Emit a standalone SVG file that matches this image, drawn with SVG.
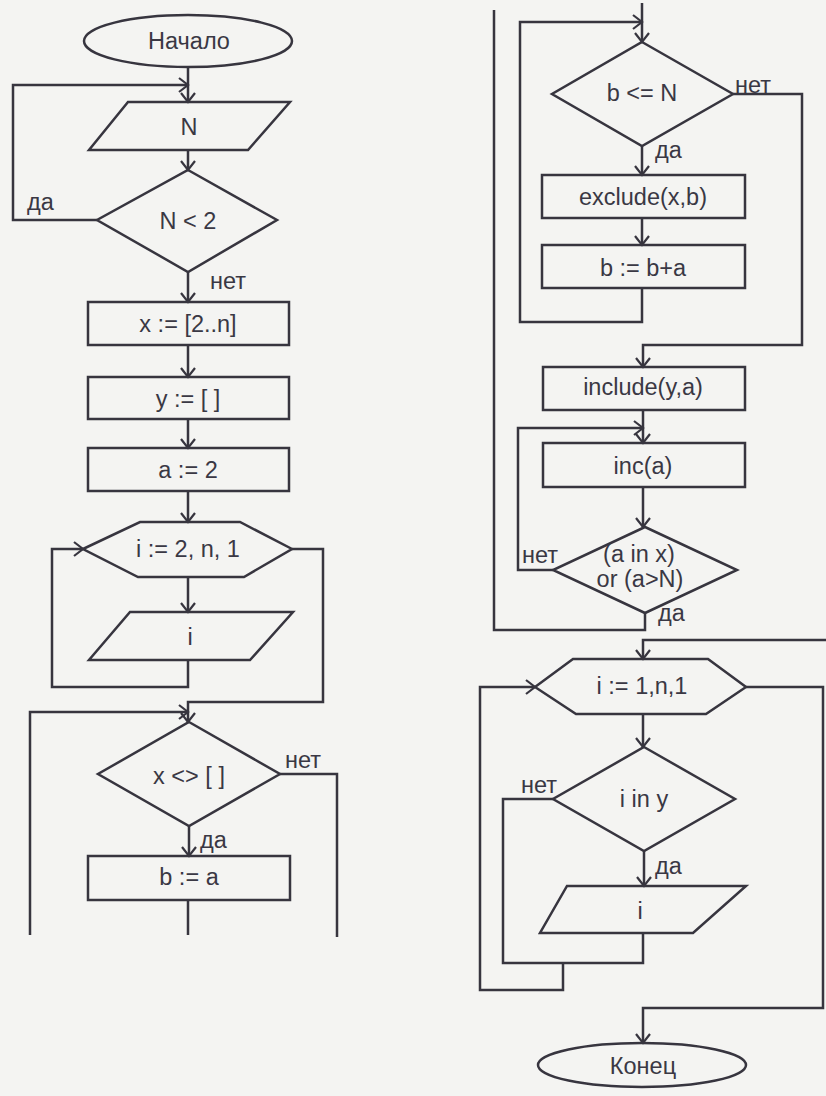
<svg xmlns="http://www.w3.org/2000/svg" width="826" height="1096" viewBox="0 0 826 1096">
  <style>
    .shape { fill: none; stroke: #37353f; stroke-width: 2.5; stroke-linejoin: miter; }
    .wire { fill: none; stroke: #37353f; stroke-width: 2.5; stroke-linejoin: miter; }
    .arr { marker-end: url(#head); }
    text { font-family: "Liberation Sans", Arial, sans-serif; font-size: 23.5px; fill: #3a3844; }
    .t { text-anchor: middle; }
  </style>
  <defs>
    <marker id="head" markerUnits="userSpaceOnUse" markerWidth="12" markerHeight="16" viewBox="-1 -1 11 16" refX="9" refY="7" orient="auto">
      <path d="M0,0 L9,7 L0,14" fill="none" stroke="#37353f" stroke-width="2.2"/>
    </marker>
  </defs>

  <rect width="826" height="1096" fill="#f4f4f2"/>

  <!-- connectors -->
  <g id="connectors">
    <!-- left column -->
    <path class="wire arr" d="M188,68 V102"/>
    <path class="wire arr" d="M97,220 H13 V85 H188"/>
    <path class="wire arr" d="M188,150 V170"/>
    <path class="wire arr" d="M188,272 V302"/>
    <path class="wire arr" d="M188,345 V377"/>
    <path class="wire arr" d="M188,419 V448"/>
    <path class="wire arr" d="M188,491 V522"/>
    <path class="wire arr" d="M188,577 V612"/>
    <path class="wire arr" d="M188,660 V687 H52 V549 H83"/>
    <path class="wire arr" d="M292,549 H323 V702 H188 V722"/>
    <path class="wire arr" d="M30,935 V712 H188"/>
    <path class="wire arr" d="M189,826 V856"/>
    <path class="wire" d="M188,900 V935"/>
    <path class="wire" d="M280,774 H337 V937"/>

    <!-- right column -->
    <path class="wire arr" d="M642,3 V42"/>
    <path class="wire arr" d="M642,288 V322 H520 V22 H642"/>
    <path class="wire arr" d="M642,146 V175"/>
    <path class="wire arr" d="M642,218 V245"/>
    <path class="wire arr" d="M733,94 H802 V345 H643 V367"/>
    <path class="wire arr" d="M643,410 V443"/>
    <path class="wire arr" d="M643,487 V527"/>
    <path class="wire arr" d="M553,570 H518 V428 H643"/>
    <path class="wire" d="M645,613 V630 H494 V10"/>
    <path class="wire arr" d="M826,640 H643 V659"/>
    <path class="wire arr" d="M643,714 V747"/>
    <path class="wire arr" d="M644,851 V886"/>
    <path class="wire" d="M643,933 V963 H503 V799 H553"/>
    <path class="wire arr" d="M563,963 V990 H480 V687 H535"/>
    <path class="wire arr" d="M746,687 H823 V1008 H643 V1043"/>

    <!-- branch labels -->
    <text x="27" y="210">да</text>
    <text x="210" y="289">нет</text>
    <text x="285" y="768">нет</text>
    <text x="200" y="848">да</text>
    <text x="735" y="93">нет</text>
    <text x="655" y="158">да</text>
    <text x="522" y="563">нет</text>
    <text x="658" y="621">да</text>
    <text x="521" y="793">нет</text>
    <text x="655" y="874">да</text>
  </g>

  <!-- left column nodes -->
  <g id="start">
    <ellipse class="shape" cx="188" cy="41" rx="104" ry="26"/>
    <text class="t" x="189" y="49">Начало</text>
  </g>
  <g id="input-n">
    <polygon class="shape" points="128,102 290,102 248,150 89,150"/>
    <text class="t" x="189" y="135">N</text>
  </g>
  <g id="check-n">
    <polygon class="shape" points="188,170 277,220 188,272 97,220"/>
    <text class="t" x="188" y="229">N &lt; 2</text>
  </g>
  <g id="set-x">
    <rect class="shape" x="88" y="302" width="201" height="43"/>
    <text class="t" x="188" y="332">x := [2..n]</text>
  </g>
  <g id="set-y">
    <rect class="shape" x="88" y="377" width="201" height="42"/>
    <text class="t" x="188" y="407">y := [ ]</text>
  </g>
  <g id="set-a">
    <rect class="shape" x="88" y="448" width="201" height="43"/>
    <text class="t" x="188" y="478">a := 2</text>
  </g>
  <g id="loop-1">
    <polygon class="shape" points="83,549 140,522 240,522 292,549 244,577 138,577"/>
    <text class="t" x="188" y="557">i := 2, n, 1</text>
  </g>
  <g id="output-i-1">
    <polygon class="shape" points="130,612 293,612 250,660 89,660"/>
    <text class="t" x="190" y="645">i</text>
  </g>
  <g id="check-x">
    <polygon class="shape" points="189,722 280,774 189,826 98,774"/>
    <text class="t" x="189" y="784">x &lt;&gt; [ ]</text>
  </g>
  <g id="set-b">
    <rect class="shape" x="88" y="856" width="202" height="44"/>
    <text class="t" x="189" y="885">b := a</text>
  </g>

  <!-- right column nodes -->
  <g id="check-b">
    <polygon class="shape" points="642,42 733,94 642,146 552,94"/>
    <text class="t" x="642" y="101">b &lt;= N</text>
  </g>
  <g id="exclude">
    <rect class="shape" x="542" y="175" width="203" height="43"/>
    <text class="t" x="643" y="205">exclude(x,b)</text>
  </g>
  <g id="step-b">
    <rect class="shape" x="542" y="245" width="203" height="43"/>
    <text class="t" x="643" y="276">b := b+a</text>
  </g>
  <g id="include">
    <rect class="shape" x="543" y="367" width="202" height="43"/>
    <text class="t" x="643" y="395">include(y,a)</text>
  </g>
  <g id="inc">
    <rect class="shape" x="543" y="443" width="202" height="44"/>
    <text class="t" x="643" y="474">inc(a)</text>
  </g>
  <g id="check-a">
    <polygon class="shape" points="645,527 737,570 645,613 553,570"/>
    <text class="t" x="639" y="562">(a in x)</text>
    <text class="t" x="640" y="587">or (a&gt;N)</text>
  </g>
  <g id="loop-2">
    <polygon class="shape" points="535,687 573,659 708,659 746,687 706,714 576,714"/>
    <text class="t" x="642" y="694">i := 1,n,1</text>
  </g>
  <g id="check-i">
    <polygon class="shape" points="644,747 735,799 644,851 553,799"/>
    <text class="t" x="644" y="807">i in y</text>
  </g>
  <g id="output-i-2">
    <polygon class="shape" points="567,886 746,886 693,933 540,933"/>
    <text class="t" x="640" y="919">i</text>
  </g>
  <g id="end">
    <ellipse class="shape" cx="642" cy="1065" rx="104" ry="22"/>
    <text class="t" x="643" y="1074">Конец</text>
  </g>
</svg>
